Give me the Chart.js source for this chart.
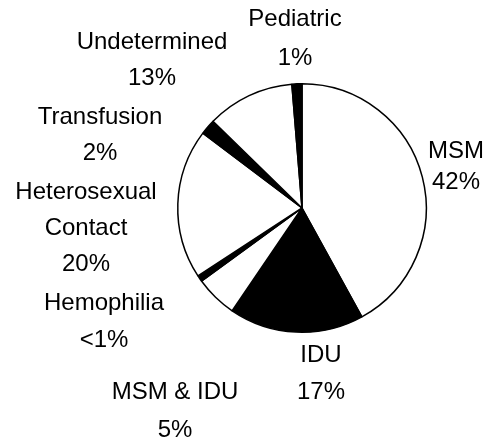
<!DOCTYPE html>
<html>
<head>
<meta charset="utf-8">
<script src="https://cdn.jsdelivr.net/npm/chart.js@4"></script>
<style>
  html, body { margin: 0; padding: 0; background: #fff; }
  canvas { display: block; }
</style>
</head>
<body>
<canvas id="pieChart" width="486" height="442"></canvas>
<script>
// Slices, clockwise from 12 o'clock
const categories = ["MSM", "IDU", "MSM & IDU", "Hemophilia", "Heterosexual Contact", "Transfusion", "Undetermined", "Pediatric"];
const shares = [42, 17.5, 5.5, 0.8, 19.5, 2, 11.4, 1.3];
const shareLabels = ["42%", "17%", "5%", "<1%", "20%", "2%", "13%", "1%"];
const fills = ["#fff", "#000", "#fff", "#000", "#fff", "#000", "#fff", "#000"];

// text lines for each slice label (name split where it wraps)
const labelLines = [
  ["MSM"], ["IDU"], ["MSM & IDU"], ["Hemophilia"],
  ["Heterosexual", "Contact"], ["Transfusion"], ["Undetermined"], ["Pediatric"]
];

// where each label block sits on the page (first line center) and its line gap
const labelPos = [
  { x: 456, y: 151, gap: 31 },
  { x: 321, y: 355, gap: 37 },
  { x: 175, y: 392, gap: 38 },
  { x: 104, y: 303, gap: 37 },
  { x: 86, y: 192, gap: 36 },
  { x: 100, y: 117, gap: 36 },
  { x: 152, y: 42, gap: 36 },
  { x: 295, y: 19, gap: 39 }
];

// draw the labels as plain text around the pie
const sliceLabels = {
  id: "sliceLabels",
  afterDraw(chart) {
    const ctx = chart.ctx;
    ctx.save();
    ctx.fillStyle = "#000";
    ctx.font = "24px 'Liberation Sans', Arial, sans-serif";
    ctx.textAlign = "center";
    ctx.textBaseline = "middle";
    categories.forEach((c, i) => {
      const p = labelPos[i];
      const lines = labelLines[i].concat([shareLabels[i]]);
      lines.forEach((t, k) => {
        ctx.fillText(t, p.x, p.y + k * p.gap);
      });
    });
    ctx.restore();
  }
};

const config = {
  type: "pie",
  data: {
    labels: categories,
    datasets: [{
      data: shares,
      backgroundColor: fills,
      borderColor: "#000",
      borderWidth: 1.5,
      hoverOffset: 0
    }]
  },
  options: {
    responsive: false,
    animation: false,
    events: [],
    layout: {
      padding: { left: 177, right: 59, top: 83, bottom: 109 }
    },
    plugins: {
      legend: { display: false },
      tooltip: { enabled: false },
      title: { display: false }
    }
  },
  plugins: [sliceLabels]
};

const pieChart = new Chart(document.getElementById("pieChart"), config);
</script>
</body>
</html>
